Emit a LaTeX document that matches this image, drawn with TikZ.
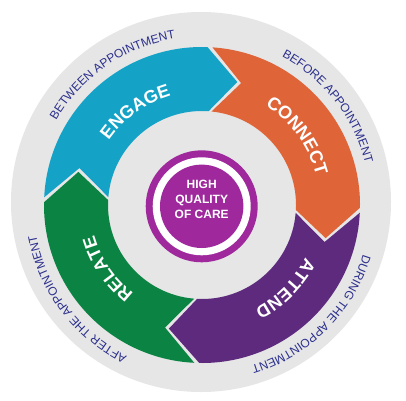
\documentclass[tikz,border=0pt]{standalone}
\usepackage{fontspec}
\setmainfont{Liberation Sans}
\usetikzlibrary{decorations.text}
\definecolor{bgc}{HTML}{E6E6E7}
\definecolor{tealA}{HTML}{14A3C6}
\definecolor{orangeA}{HTML}{DF6438}
\definecolor{purpA}{HTML}{5E2A7E}
\definecolor{greenA}{HTML}{0B8443}
\definecolor{magA}{HTML}{9E289C}
\definecolor{navyA}{HTML}{2B2F8C}
\def\Ro{158}\def\Ri{94}\def\Rt{128}\def\dl{14}\def\gp{1.8}\def\ep{2}
\newcommand\arrowseg[3]{%
  \fill[#1] ({#2-\gp}:\Ro) arc[start angle={#2-\gp}, end angle={#3}, radius=\Ro]
    -- ({#3-\dl}:\Rt) -- ({#3-\ep}:\Ri)
    arc[start angle={#3-\ep}, end angle={#2-\gp-\ep}, radius=\Ri]
    -- ({#2-\gp-\dl}:\Rt) -- cycle;}
\newcommand\mainlab[3]{% #1 center angle, #2 baseline radius, #3 text
  \path[decorate, decoration={text along path, text align=center, text color=white,
    text={|\bfseries\fontsize{18pt}{20pt}\selectfont|#3}}]
    ({#1+40}:#2) arc[start angle={#1+40}, end angle={#1-40}, radius=#2];}
\newcommand\outlab[2]{%
  \path[decorate, decoration={text along path, text align=center, text color=navyA,
    text={|\fontsize{12pt}{14pt}\selectfont|#2}}]
    ({#1+45}:168.5) arc[start angle={#1+45}, end angle={#1-45}, radius=168.5];}
\begin{document}
\begin{tikzpicture}[x=1pt,y=1pt]
\fill[white] (0,0) rectangle (406,400);
\useasboundingbox (0,0) rectangle (406,400);
\fill[bgc] (201,198) circle[radius=190];
\begin{scope}[shift={(202,195)}]
  \arrowseg{greenA}{-91}{-181}
  \arrowseg{tealA}{179}{88}
  \arrowseg{orangeA}{88}{-1}
  \arrowseg{purpA}{-1}{-91}
  \mainlab{125.5}{113.5}{ENGAGE}
  \mainlab{36}{118}{CONNECT}
  \mainlab{-45}{116}{ATTEND}
  \mainlab{-146}{112}{RELATE}
  \outlab{124.5}{BETWEEN APPOINTMENT}
  \outlab{38}{BEFORE APPOINTMENT}
  \outlab{-45}{DURING THE APPOINTMENT}
  \outlab{-143}{AFTER THE APPOINTMENT}
\end{scope}
\fill[magA] (201.7,193.7) circle[radius=56];
\fill[white] (201.7,193.7) circle[radius=49];
\fill[magA] (201.7,193.7) circle[radius=41.7];
\node[text=white, font=\bfseries\fontsize{12pt}{15pt}\selectfont, align=center] (core) at (201.7,201) {HIGH\\QUALITY\\OF CARE};
\end{tikzpicture}
\end{document}
